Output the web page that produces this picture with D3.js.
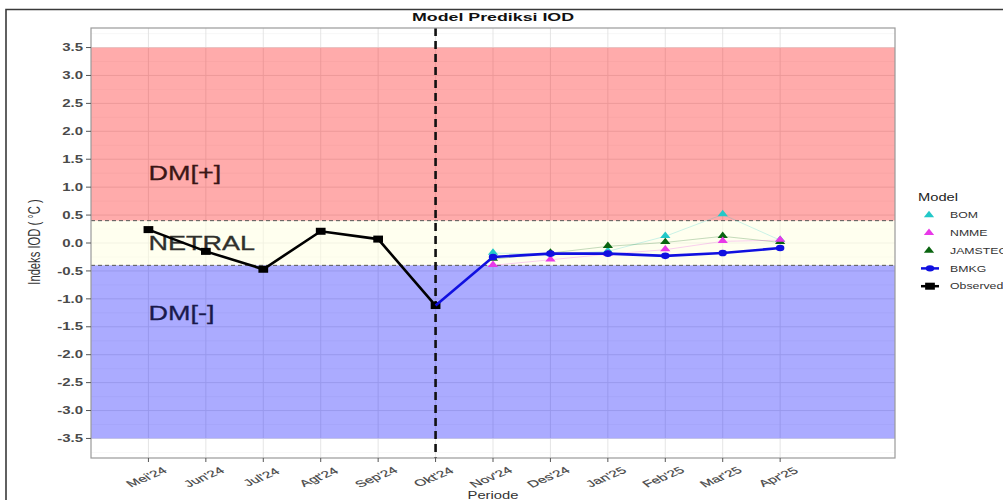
<!DOCTYPE html>
<html>
<head>
<meta charset="utf-8">
<script src="https://cdn.jsdelivr.net/npm/d3@7"></script>
<style>
  body { margin: 0; background: #fff; }
  svg { display: block; font-family: "Liberation Sans", Arial, sans-serif; }
</style>
</head>
<body>
<svg id="plot" width="1003" height="500"></svg>
<script>
const width = 1003;
const height = 500;

// data
const months = ["Mei'24", "Jun'24", "Jul'24", "Agt'24", "Sep'24", "Okt'24",
                "Nov'24", "Des'24", "Jan'25", "Feb'25", "Mar'25", "Apr'25"];
const observed = [0.24, -0.15, -0.47, 0.21, 0.07, -1.12];
const bmkg = [null, null, null, null, null, -1.12, -0.25, -0.19, -0.19, -0.23, -0.18, -0.09];
const bom = [null, null, null, null, null, null, -0.18, -0.20, -0.15, 0.12, 0.51, 0.05];
const jamstec = [null, null, null, null, null, null, -0.29, -0.18, -0.06, 0.01, 0.12, 0.01];
const nmme = [null, null, null, null, null, null, -0.40, -0.30, -0.20, -0.12, 0.03, 0.05];
const yTicks = [-3.5, -3, -2.5, -2, -1.5, -1, -0.5, 0, 0.5, 1, 1.5, 2, 2.5, 3, 3.5];
const bands = [
  { lo: 0.4, hi: 3.5, fill: "red", op: 0.33 },
  { lo: -0.4, hi: 0.4, fill: "#ffffe0", op: 0.5 },
  { lo: -3.5, hi: -0.4, fill: "blue", op: 0.33 }
];
const bandLabels = [
  { text: "DM[+]", v: 1.25, color: "#3a1616" },
  { text: "NETRAL", v: 0, color: "#30302c" },
  { text: "DM[-]", v: -1.25, color: "#1a1a4c" }
];
const models = [
  { name: "BOM", values: bom, color: "#22c8c8" },
  { name: "JAMSTEC", values: jamstec, color: "#0a6410" },
  { name: "NMME", values: nmme, color: "#e838e8" }
];
const legendItems = [
  { name: "BOM", color: "#22c8c8", shape: "tri" },
  { name: "NMME", color: "#e838e8", shape: "tri" },
  { name: "JAMSTEC", color: "#0a6410", shape: "tri" },
  { name: "BMKG", color: "#1010e0", shape: "circle" },
  { name: "Observed", color: "#000", shape: "square" }
];

const K = 0.68; // picture is squashed vertically
const panel = { left: 91, right: 895, top: 28, bottom: 458 };

const svg = d3.select("#plot");

// outer frame
svg.append("path")
  .attr("d", `M6,${height} V9.5 H${width}`)
  .attr("fill", "none").attr("stroke", "#3a3a3a").attr("stroke-width", 1.6);

const x = d3.scaleLinear().domain([-1, 13]).range([panel.left, panel.right]);
const y = d3.scaleLinear().domain([-3.85, 3.85]).range([panel.bottom, panel.top]);

function squishText(sel, tx, ty, txt, o) {
  const g = sel.append("g")
    .attr("transform", `translate(${tx},${ty}) scale(1,${o.k || K})` + (o.rotate ? ` rotate(${o.rotate})` : ""));
  return g.append("text")
    .attr("text-anchor", o.anchor || "start")
    .attr("dy", o.dy || 0)
    .attr("font-size", o.size)
    .attr("font-weight", o.weight || "normal")
    .attr("fill", o.fill || "#000")
    .attr("stroke", o.stroke || "none")
    .attr("stroke-width", o.sw || 0)
    .text(txt);
}

// grid
const grid = svg.append("g");
d3.range(-3.75, 3.8, 0.25).forEach(v => {
  const major = Math.abs(v * 2 - Math.round(v * 2)) < 1e-6;
  grid.append("line")
    .attr("x1", panel.left).attr("x2", panel.right)
    .attr("y1", y(v)).attr("y2", y(v))
    .attr("stroke", major ? "#e2e2e2" : "#f0f0f0")
    .attr("stroke-width", major ? 0.9 : 0.5);
});
months.forEach((m, i) => {
  grid.append("line")
    .attr("x1", x(i)).attr("x2", x(i))
    .attr("y1", panel.top).attr("y2", panel.bottom)
    .attr("stroke", "#e2e2e2").attr("stroke-width", 0.9);
});

svg.selectAll("rect.band")
  .data(bands)
  .enter().append("rect")
  .attr("class", "band")
  .attr("x", panel.left)
  .attr("width", panel.right - panel.left)
  .attr("y", d => y(d.hi))
  .attr("height", d => y(d.lo) - y(d.hi))
  .attr("fill", d => d.fill)
  .attr("fill-opacity", d => d.op);

bandLabels.forEach(d => {
  squishText(svg, x(0), y(d.v), d.text,
    { size: 27, dy: "0.36em", k: 0.75, fill: d.color, stroke: d.color, sw: 0.4 });
});

// threshold lines
[0.4, -0.4].forEach(v => {
  svg.append("line")
    .attr("x1", panel.left).attr("x2", panel.right)
    .attr("y1", y(v)).attr("y2", y(v))
    .attr("stroke", "#555").attr("stroke-width", 1)
    .attr("stroke-dasharray", "4,3");
});

// Okt'24 marker line
svg.append("line")
  .attr("x1", x(5)).attr("x2", x(5))
  .attr("y1", panel.top).attr("y2", panel.bottom)
  .attr("stroke", "#111").attr("stroke-width", 2.6)
  .attr("stroke-dasharray", "8,5");

// model forecasts
const line = d3.line()
  .defined(d => d != null)
  .x((d, i) => x(i))
  .y(d => y(d));

const tri = d3.symbol().type(d3.symbolTriangle).size(46);
const circ = d3.symbol().type(d3.symbolCircle).size(56);
const sq = d3.symbol().type(d3.symbolSquare).size(95);

models.forEach(m => {
  svg.append("path")
    .attr("d", line(m.values))
    .attr("fill", "none")
    .attr("stroke", m.color).attr("stroke-opacity", 0.3)
    .attr("stroke-width", 0.8);
});
models.forEach(m => {
  svg.append("g").selectAll("path")
    .data(m.values.map((v, i) => ({ v, i })).filter(d => d.v != null))
    .enter().append("path")
    .attr("d", tri)
    .attr("transform", d => `translate(${x(d.i)},${y(d.v) - 0.5}) scale(1,0.72)`)
    .attr("fill", m.color);
});

// observed
svg.append("path")
  .attr("d", line(observed))
  .attr("fill", "none").attr("stroke", "#000").attr("stroke-width", 2.6);
svg.append("g").selectAll("path")
  .data(observed)
  .enter().append("path")
  .attr("d", sq)
  .attr("transform", (d, i) => `translate(${x(i)},${y(d)}) scale(1,0.72)`)
  .attr("fill", "#000");

// BMKG
svg.append("path")
  .attr("d", line(bmkg))
  .attr("fill", "none").attr("stroke", "#1010e0").attr("stroke-width", 2.6);
svg.append("g").selectAll("path")
  .data(bmkg.map((v, i) => ({ v, i })).filter(d => d.v != null && d.i > 5))
  .enter().append("path")
  .attr("d", circ)
  .attr("transform", d => `translate(${x(d.i)},${y(d.v)}) scale(1,0.78)`)
  .attr("fill", "#1010e0");

// panel border
svg.append("rect")
  .attr("x", panel.left).attr("y", panel.top)
  .attr("width", panel.right - panel.left).attr("height", panel.bottom - panel.top)
  .attr("fill", "none").attr("stroke", "#9a9a9a").attr("stroke-width", 1.2);

// y axis
yTicks.forEach(v => {
  svg.append("line")
    .attr("x1", panel.left - 5).attr("x2", panel.left)
    .attr("y1", y(v)).attr("y2", y(v))
    .attr("stroke", "#555").attr("stroke-width", 1);
  squishText(svg, panel.left - 8, y(v), d3.format(".1f")(v).replace("−", "-"),
    { size: 15, weight: "bold", anchor: "end", dy: "0.36em", fill: "#4a4a4a" });
});

// x axis
months.forEach((m, i) => {
  svg.append("line")
    .attr("x1", x(i)).attr("x2", x(i))
    .attr("y1", panel.bottom).attr("y2", panel.bottom + 4)
    .attr("stroke", "#555").attr("stroke-width", 1);
  squishText(svg, x(i) - 2, 477, m,
    { size: 15.5, anchor: "middle", dy: "0.35em", rotate: -35, k: 0.6, fill: "#444",
      stroke: "#444", sw: 0.25 });
});

// titles
squishText(svg, (panel.left + panel.right) / 2, 20.5, "Model Prediksi IOD",
  { size: 17.8, weight: "bold", anchor: "middle", k: 0.65, fill: "#111" });
squishText(svg, (panel.left + panel.right) / 2, 499, "Periode",
  { size: 14.8, anchor: "middle", fill: "#333" });
svg.append("g")
  .attr("transform", `translate(40,242) scale(1,${K}) rotate(-90)`)
  .append("text")
  .attr("text-anchor", "middle")
  .attr("font-size", 16.5)
  .attr("fill", "#333")
  .text("Indeks IOD ( °C )");

// legend
const leg = svg.append("g").attr("transform", "translate(918,0)");
squishText(leg, 0, 200.7, "Model", { size: 14.7, k: 0.7, fill: "#222" });
legendItems.forEach((d, i) => {
  const cy = 215 + i * 17.8;
  if (d.shape === "tri") {
    leg.append("path").attr("d", tri)
      .attr("transform", `translate(11,${cy}) scale(1,0.72)`)
      .attr("fill", d.color);
  } else {
    leg.append("line")
      .attr("x1", 3).attr("x2", 21).attr("y1", cy).attr("y2", cy)
      .attr("stroke", d.color).attr("stroke-width", 2.5);
    leg.append("path").attr("d", d.shape === "circle" ? circ : sq)
      .attr("transform", `translate(12,${cy}) scale(1,0.72)`)
      .attr("fill", d.color);
  }
  squishText(leg, 32, cy, d.name, { size: 12.3, k: 0.7, dy: "0.36em", fill: "#333" });
});
</script>
</body>
</html>
